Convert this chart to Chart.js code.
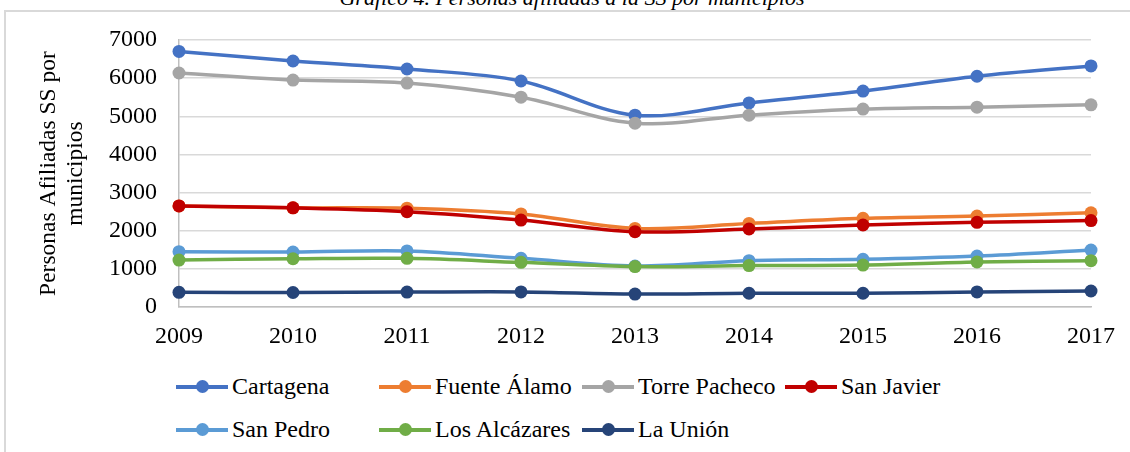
<!DOCTYPE html>
<html>
<head>
<meta charset="utf-8">
<script src="https://cdn.jsdelivr.net/npm/chart.js@4.4.0/dist/chart.umd.min.js"></script>
<style>
    html, body { margin: 0; padding: 0; background: #fff; }
    body { width: 1130px; height: 452px; position: relative; overflow: hidden; font-family: "Liberation Serif", "Times New Roman", serif; }
    #frame { position: absolute; left: 4px; top: 10px; width: 1160px; height: 480px; border: 2px solid #d9d9d9; box-sizing: border-box; }
    #title { position: absolute; left: 0; width: 1144px; top: -13px; text-align: center; font-style: italic; font-size: 22px; line-height: 22px; color: #000; }
    #wrap { position: absolute; left: 0; top: 0; width: 1130px; height: 360px; }
    #legend { position: absolute; left: 176px; top: 365px; display: grid; grid-template-columns: repeat(4, 203px); grid-auto-rows: 43px; }
    .item { display: flex; align-items: center; font-size: 24px; white-space: nowrap; color: #000; }
    .mk { position: relative; width: 52px; height: 4px; margin-right: 4px; }
    .mk i { position: absolute; left: 50%; top: 50%; width: 13px; height: 13px; margin: -6.5px 0 0 -6.5px; border-radius: 50%; }
</style>
</head>
<body>
<div id="frame"></div>
<div id="title">Gráfico 4. Personas afiliadas a la SS por municipios</div>
<div id="wrap"><canvas id="chartAfiliados"></canvas></div>
<div id="legend"></div>

<script>
// datos
const years = ['2009', '2010', '2011', '2012', '2013', '2014', '2015', '2016', '2017'];
const cartagena    = [6700, 6450, 6240, 5925, 5030, 5350, 5660, 6050, 6320];
const fuenteAlamo  = [2650, 2600, 2590, 2440, 2060, 2190, 2325, 2385, 2470];
const torrePacheco = [6135, 5950, 5870, 5500, 4820, 5030, 5190, 5240, 5300];
const sanJavier    = [2650, 2600, 2500, 2280, 1975, 2045, 2150, 2220, 2265];
const sanPedro     = [1450, 1440, 1470, 1275, 1075, 1215, 1250, 1335, 1495];
const losAlcazares = [1230, 1265, 1275, 1170, 1060, 1085, 1100, 1180, 1215];
const laUnion      = [385, 380, 390, 395, 340, 360, 360, 395, 420];

const seriesNames = ['Cartagena', 'Fuente Álamo', 'Torre Pacheco', 'San Javier', 'San Pedro', 'Los Alcázares', 'La Unión'];
const seriesData = [cartagena, fuenteAlamo, torrePacheco, sanJavier, sanPedro, losAlcazares, laUnion];
const seriesColors = ['#4472c4', '#ed7d31', '#a5a5a5', '#c00000', '#5b9bd5', '#70ad47', '#264478'];

const yMax = 7000;
const yStep = 1000;
const serif = '"Liberation Serif", "Times New Roman", serif';

document.addEventListener('DOMContentLoaded', function() {
    const ctx = document.getElementById('chartAfiliados').getContext('2d');

    const datasets = seriesNames.map(function(name, i) {
        return {
            label: name,
            data: seriesData[i],
            borderColor: seriesColors[i],
            backgroundColor: seriesColors[i],
            pointBackgroundColor: seriesColors[i],
            pointBorderColor: seriesColors[i],
            borderWidth: 3.5,
            pointRadius: 6.5,
            pointBorderWidth: 0,
            tension: 0.35,
            clip: false,
            order: seriesNames.length - i   // las últimas series quedan encima, como en Excel
        };
    });

    new Chart(ctx, {
        type: 'line',
        data: { labels: years, datasets: datasets },
        options: {
            responsive: true,
            maintainAspectRatio: false,
            animation: false,
            layout: { padding: { top: 40, right: 38, bottom: 0, left: 0 } },
            plugins: {
                legend: { display: false },
                tooltip: { enabled: false }
            },
            scales: {
                x: {
                    offset: false,
                    grid: { display: false, drawTicks: false },
                    border: { display: true, color: '#bfbfbf', width: 1.5 },
                    ticks: { color: '#000', padding: 15, maxRotation: 0, font: { size: 24, family: serif } },
                    afterFit: function(scale) { scale.height = 53; }
                },
                y: {
                    min: 0,
                    max: yMax,
                    grid: { color: '#d9d9d9', lineWidth: 1.5, drawTicks: false },
                    border: { display: true, color: '#bfbfbf', width: 1.5 },
                    ticks: {
                        stepSize: yStep,
                        color: '#000',
                        padding: 22,
                        font: { size: 24, family: serif },
                        callback: function(value) { return String(value); }
                    },
                    title: {
                        display: true,
                        text: ['Personas Afiliadas SS por', 'municipios'],
                        color: '#000',
                        padding: { top: 35, bottom: 0 },
                        font: { size: 23.5, family: serif, lineHeight: 1.15 }
                    },
                    afterFit: function(scale) { scale.width = 179; }
                }
            }
        }
    });

    // leyenda en rejilla, como la de Excel
    const legend = document.getElementById('legend');
    seriesNames.forEach(function(name, i) {
        const item = document.createElement('div');
        item.className = 'item';
        const mk = document.createElement('span');
        mk.className = 'mk';
        mk.style.background = seriesColors[i];
        const dot = document.createElement('i');
        dot.style.background = seriesColors[i];
        mk.appendChild(dot);
        item.appendChild(mk);
        item.appendChild(document.createTextNode(name));
        legend.appendChild(item);
    });
});
</script>
</body>
</html>
